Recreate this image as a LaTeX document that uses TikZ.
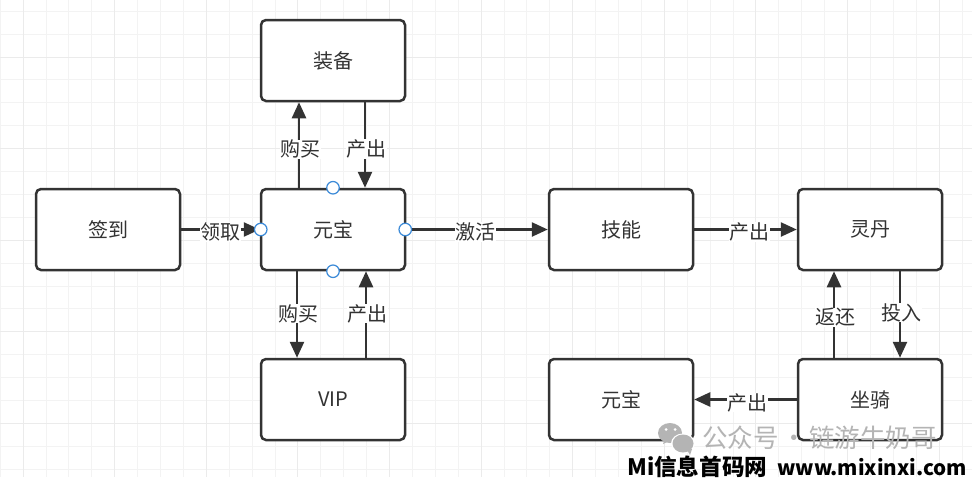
\documentclass[tikz,border=0pt]{standalone}
\usepackage{fontspec}
\setmainfont{Noto Sans CJK SC}
\newfontfamily\wmfont{Noto Sans CJK SC}
\usetikzlibrary{arrows.meta,calc}
\definecolor{ink}{HTML}{333333}
\definecolor{gridminor}{HTML}{F3F3F3}
\definecolor{gridmajor}{HTML}{EBEBEB}
\definecolor{portblue}{HTML}{3D8BD8}
\definecolor{wmgrey}{HTML}{B4B4B4}
\tikzset{
  box/.style={draw=ink,line width=2.5pt,rounded corners=5pt,fill=white,minimum width=144pt,minimum height=81pt,inner sep=0pt,font=\fontsize{20}{22}\selectfont,text=ink},
  conn/.style={draw=ink,line width=2.5pt,-{Triangle[length=16pt,width=14pt]}},
  lab/.style={fill=white,inner sep=0.5pt,font=\fontsize{20}{22}\selectfont,text=ink},
  port/.style={circle,draw=portblue,fill=white,line width=1.2pt,minimum size=12.5pt,inner sep=0pt},
}
\begin{document}
\begin{tikzpicture}[x=1pt,y=-1pt]
\useasboundingbox (0,0) rectangle (972,477);
\fill[white] (0,0) rectangle (972,477);
\foreach \k in {0,...,42}{\draw[gridminor,line width=1pt] ({0.2+22.9*\k},0) -- ({0.2+22.9*\k},477);}
\foreach \k in {0,...,20}{\draw[gridminor,line width=1pt] (0,{11.2+22.9*\k}) -- (972,{11.2+22.9*\k});}
\foreach \k in {0,...,10}{\draw[gridmajor,line width=1pt] ({23+91.6*\k},0) -- ({23+91.6*\k},477);}
\foreach \k in {0,...,4}{\draw[gridmajor,line width=1pt] (0,{57+91.6*\k}) -- (972,{57+91.6*\k});}

\node[box] (zb) at (333,60.5) {\raisebox{-2pt}{装备}};
\node[box] (qd) at (108,229.5) {\raisebox{-3pt}{签到}};
\node[box] (yb) at (333,229.5) {\raisebox{-3pt}{元宝}};
\node[box] (jn) at (621,229.5) {\raisebox{-3pt}{技能}};
\node[box] (ld) at (870,229.5) {\raisebox{-3pt}{灵丹}};
\node[box] (vip) at (333,399.5) {\hspace{1pt}VIP};
\node[box] (yb2) at (621,399.5) {\raisebox{-1pt}{元宝}};
\node[box] (zq) at (870,399.5) {\raisebox{-1pt}{坐骑}};

\draw[conn] ([xshift=-34pt]yb.north) -- ([xshift=-34pt]zb.south) node[lab,pos=.45,xshift=1pt] {购买};
\draw[conn] ([xshift=32pt]zb.south) -- ([xshift=32pt]yb.north) node[lab,pos=.55,xshift=1pt] {产出};
\draw[conn] (qd.east) -- (yb.west) node[lab,pos=.5,yshift=-2.5pt] {领取};
\draw[conn] (yb.east) -- (jn.west) node[lab,pos=.49,yshift=-2.5pt] {激活};
\draw[conn] (jn.east) -- (ld.west) node[lab,pos=.53,yshift=-2.5pt,xshift=1pt] {产出};
\draw[conn] ([xshift=-36pt]yb.south) -- ([xshift=-36pt]vip.north) node[lab,pos=.5,xshift=1pt,yshift=1pt] {购买};
\draw[conn] ([xshift=33pt]vip.north) -- ([xshift=33pt]yb.south) node[lab,pos=.5,xshift=1pt,yshift=1pt] {产出};
\draw[conn] ([xshift=-36pt]zq.north) -- ([xshift=-36pt]ld.south) node[lab,pos=.47,xshift=1pt] {返还};
\draw[conn] ([xshift=30pt]ld.south) -- ([xshift=30pt]zq.north) node[lab,pos=.48,xshift=1pt] {投入};
\draw[conn] (zq.west) -- (yb2.east) node[lab,pos=.48,yshift=-3pt] {产出};

\node[port] (p1) at (yb.north) {};
\node[port] (p2) at (yb.south) {};
\node[port] (p3) at ([xshift=1pt]yb.west) {};
\node[port] (p4) at ([xshift=-1pt]yb.east) {};

% watermark
\fill[wmgrey] (670,433) ellipse (12pt and 10pt);
\fill[wmgrey] (663,444) -- (669,441) -- (665,438) -- cycle;
\fill[white] (666,429.5) circle (1.5pt) (675,429.5) circle (1.5pt);
\fill[white] (683,443.5) ellipse (12pt and 10pt);
\fill[wmgrey] (683,443.5) ellipse (10.5pt and 9pt);
\fill[wmgrey] (690,455) -- (687,450) -- (692,449) -- cycle;
\node[text=wmgrey,anchor=west,inner sep=0pt,font=\wmfont\fontsize{25.5}{27}\selectfont] (wm) at (702,438) {公众号\hspace{3pt}·\hspace{2pt}链游牛奶哥};
\node[text=black,anchor=west,inner sep=0pt,font=\wmfont\bfseries] (site) at (627,467) {{\fontsize{22.6}{24}\selectfont Mi信息首码网}\hspace{10pt}{\fontsize{20.6}{24}\selectfont www.mixinxi.com}};
\end{tikzpicture}
\end{document}
